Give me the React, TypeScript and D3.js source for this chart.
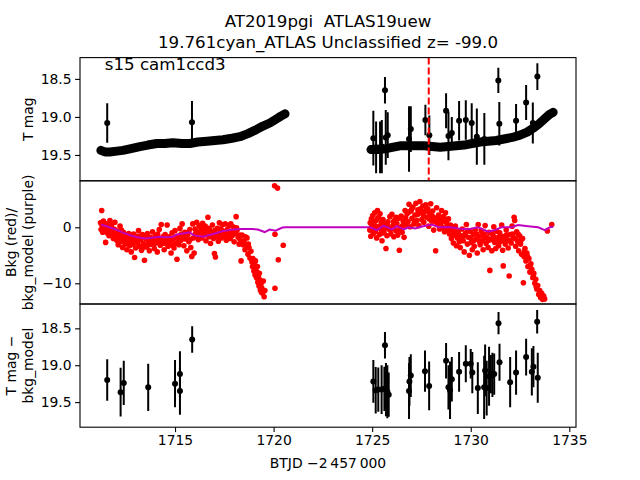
import * as d3 from "d3";
import { useRef, useEffect } from "react";

// dense TESS light curve (BTJD, T mag), two orbits
const bandOrbit1: [number, number][] = [
  [1711.24, 19.44], [1711.44, 19.46], [1711.69, 19.46], [1712.05, 19.45], [1712.35, 19.44],
  [1712.71, 19.42], [1713.22, 19.39], [1713.62, 19.37], [1714.08, 19.35], [1714.48, 19.35],
  [1714.89, 19.34], [1715.35, 19.35], [1715.75, 19.35], [1716.16, 19.33], [1716.62, 19.32],
  [1717.02, 19.31], [1717.43, 19.30], [1717.89, 19.28], [1718.29, 19.26], [1718.70, 19.22],
  [1719.10, 19.17], [1719.46, 19.12], [1719.81, 19.08], [1720.12, 19.03], [1720.37, 18.99],
  [1720.58, 18.96],
];
const bandOrbit2: [number, number][] = [
  [1724.94, 19.43], [1725.30, 19.43], [1725.65, 19.42], [1726.01, 19.40], [1726.41, 19.38],
  [1726.82, 19.38], [1727.23, 19.38], [1727.63, 19.38], [1728.04, 19.39], [1728.45, 19.40],
  [1728.85, 19.39], [1729.26, 19.38], [1729.66, 19.37], [1730.07, 19.35], [1730.48, 19.33],
  [1730.88, 19.32], [1731.29, 19.31], [1731.69, 19.29], [1732.10, 19.27], [1732.50, 19.24],
  [1732.86, 19.20], [1733.16, 19.15], [1733.47, 19.09], [1733.72, 19.03], [1733.98, 18.97],
  [1734.18, 18.94],
];

// sparse points with error bars, top panel (day, mag, err)
const magPoints: [number, number, number][] = [
  [1711.56, 19.08, 0.26], [1715.86, 19.07, 0.28],
  [1725.06, 19.28, 0.36], [1725.20, 19.40, 0.34], [1725.40, 19.40, 0.34], [1725.49, 19.39, 0.35],
  [1725.65, 18.65, 0.175], [1725.69, 19.27, 0.36], [1725.79, 19.24, 0.3], [1726.87, 19.29, 0.43],
  [1726.96, 19.16, 0.3], [1727.70, 19.04, 0.2], [1727.90, 19.24, 0.26], [1728.75, 18.92, 0.23],
  [1728.87, 19.25, 0.32], [1729.04, 19.21, 0.21], [1729.41, 19.05, 0.26], [1729.75, 19.04, 0.26],
  [1730.05, 19.08, 0.26], [1730.31, 19.26, 0.37], [1730.69, 19.29, 0.34], [1731.40, 18.52, 0.165],
  [1731.45, 19.09, 0.285], [1732.30, 19.05, 0.22], [1732.81, 18.81, 0.23], [1733.15, 19.08, 0.27],
  [1733.38, 18.47, 0.175],
];

// background flux (red dots)
const bkgPoints: [number, number][] = [
  [1711.22, 0.8], [1711.25, -0.4], [1711.28, 3.0], [1711.3, 0.3], [1711.33, -0.9], [1711.37, 1.1],
  [1711.4, 0.2], [1711.45, -0.5], [1711.48, -2.7], [1711.52, 0.6], [1711.56, -1.0], [1711.6, -0.2],
  [1711.65, -1.5], [1711.7, 1.2], [1711.74, -0.6], [1711.78, 0.4], [1711.82, -1.2], [1711.87, -2.0],
  [1711.9, -0.3], [1711.95, 0.9], [1712.0, -1.6], [1712.04, -2.3], [1712.08, -0.8], [1712.12, -3.1],
  [1712.17, -1.4], [1712.21, 0.2], [1712.25, -2.6], [1712.3, -1.9], [1712.34, -3.6], [1712.38, -0.9],
  [1712.43, -2.2], [1712.47, -3.0], [1712.52, -1.5], [1712.56, -4.0], [1712.6, -2.7], [1712.65, -1.1],
  [1712.7, -3.3], [1712.74, -2.1], [1712.78, -4.4], [1712.83, -1.7], [1712.87, -3.0], [1712.92, -2.4],
  [1712.95, -5.4], [1713.0, -3.7], [1713.04, -1.6], [1713.1, -2.8], [1713.15, -0.6], [1713.2, -3.4],
  [1713.25, -2.2], [1713.3, -4.1], [1713.35, -1.3], [1713.4, -2.9], [1713.45, -5.9], [1713.5, -2.0],
  [1713.55, -3.5], [1713.6, -1.1], [1713.65, -2.5], [1713.7, -4.2], [1713.75, -1.8], [1713.8, -3.0],
  [1713.86, -0.8], [1713.9, -2.3], [1713.95, -3.8], [1714.0, -1.5], [1714.05, -2.7], [1714.1, -4.4],
  [1714.15, -2.0], [1714.2, -0.4], [1714.25, -3.2], [1714.3, 0.5], [1714.35, -1.9], [1714.4, -2.9],
  [1714.45, -4.0], [1714.5, -1.3], [1714.55, -2.4], [1714.6, 0.4], [1714.65, -3.4], [1714.7, -1.7],
  [1714.75, -2.6], [1714.8, -4.6], [1714.85, -1.0], [1714.9, -2.2], [1714.95, -3.7], [1715.0, -0.6],
  [1715.05, -2.9], [1715.1, -5.7], [1715.15, -1.6], [1715.2, -3.1], [1715.25, -0.2], [1715.3, -2.3],
  [1715.36, 0.6], [1715.4, -1.5], [1715.45, -3.3], [1715.5, -0.9], [1715.55, -2.1], [1715.6, -4.2],
  [1715.65, -1.3], [1715.7, -2.6], [1715.75, -0.4], [1715.8, -3.6], [1715.85, -5.2], [1715.9, 0.6],
  [1715.93, -1.9], [1715.97, -4.6], [1716.02, -0.3], [1716.06, -1.6], [1716.1, 0.9], [1716.14, -0.8],
  [1716.18, -2.2], [1716.22, 0.3], [1716.27, -1.2], [1716.31, -0.1], [1716.35, -1.9], [1716.4, 0.7],
  [1716.44, -0.6], [1716.48, -1.4], [1716.53, 0.2], [1716.57, -2.4], [1716.62, -0.9], [1716.67, 1.8],
  [1716.72, -1.7], [1716.76, -0.4], [1716.8, -2.9], [1716.85, -1.1], [1716.9, 0.4], [1716.95, -2.0],
  [1717.0, -4.7], [1717.05, -5.3], [1717.1, -1.3], [1717.15, -0.2], [1717.2, -2.5], [1717.25, 0.8],
  [1717.3, -1.0], [1717.35, -1.9], [1717.4, 0.5], [1717.45, -0.7], [1717.5, -1.6], [1717.55, 0.6],
  [1717.6, -2.3], [1717.65, -0.4], [1717.7, -1.2], [1717.75, 0.3], [1717.8, -2.0], [1717.85, -0.8],
  [1717.9, -1.5], [1717.95, 0.1], [1718.0, -2.6], [1718.05, -1.0], [1718.1, 1.9], [1718.15, -0.5],
  [1718.2, -1.8], [1718.25, -3.0], [1718.3, -2.2], [1718.35, -6.0], [1718.4, -1.4], [1718.45, -3.1],
  [1718.5, -2.5], [1718.55, -4.0], [1718.6, -3.3], [1718.65, -1.9], [1718.7, -4.8], [1718.75, -3.6],
  [1718.8, -5.5], [1718.85, -4.3], [1718.9, -6.2], [1718.93, -7.0], [1718.96, -5.6], [1719.0, -7.8],
  [1719.03, -6.6], [1719.06, -8.5], [1719.1, -7.3], [1719.13, -9.0], [1719.16, -8.0], [1719.2, -9.8],
  [1719.23, -8.8], [1719.26, -10.5], [1719.3, -9.4], [1719.33, -11.2], [1719.37, -10.0], [1719.4, -10.8],
  [1719.44, -11.8], [1719.48, -9.6], [1719.52, -12.4], [1719.56, -11.3],
  [1720.05, 7.4], [1720.2, 7.0], [1720.07, -1.25], [1720.07, -10.9], [1720.24, -5.8], [1720.49, -3.2],
  [1711.35, -0.1], [1711.42, 0.5], [1711.58, -0.7], [1711.67, 0.0], [1711.85, -0.9], [1711.98, -0.5],
  [1712.14, -1.9], [1712.28, -0.5], [1712.45, -1.3], [1712.62, -2.0], [1712.76, -2.9], [1712.9, -1.2],
  [1713.07, -2.3], [1713.22, -1.6], [1713.37, -3.6], [1713.52, -1.5], [1713.67, -3.1], [1713.83, -2.1],
  [1713.97, -2.9], [1714.12, -1.2], [1714.28, -2.4], [1714.42, -1.6], [1714.58, -3.0], [1714.72, -2.2],
  [1714.87, -3.2], [1715.02, -1.8], [1715.17, -2.5], [1715.32, -1.2], [1715.47, -2.0], [1715.62, -1.0],
  [1715.77, -2.2], [1716.04, -1.1], [1716.2, -1.4], [1716.37, -0.5], [1716.55, -1.1], [1716.7, -0.2],
  [1716.87, -1.6], [1717.02, -0.6], [1717.18, -1.7], [1717.33, -0.3], [1717.52, -0.9], [1717.68, -1.8],
  [1717.83, 0.6], [1717.98, -1.1], [1718.12, -0.1], [1718.27, -1.4], [1718.42, -2.6], [1718.57, -1.7],
  [1718.72, -3.0], [1719.08, -6.0], [1719.18, -7.0], [1719.28, -8.2], [1719.38, -11.6],
  [1724.88, -0.5], [1724.9, 0.8], [1724.93, -1.6], [1724.96, 1.5], [1725.0, -0.2], [1725.03, 2.1],
  [1725.06, -1.1], [1725.1, 0.5], [1725.13, 2.6], [1725.16, -0.7], [1725.2, 1.2], [1725.23, -1.9],
  [1725.27, 3.0], [1725.3, 0.1], [1725.33, 1.8], [1725.37, -1.3], [1725.4, 2.4], [1725.44, -0.4],
  [1725.47, 0.9], [1725.5, -2.4], [1725.55, 1.4], [1725.6, -0.9], [1725.65, 0.6], [1725.7, -3.8],
  [1725.75, -1.5], [1725.8, 1.0], [1725.85, -0.3], [1725.9, 1.9], [1725.95, -1.2], [1726.0, 2.3],
  [1726.05, 0.2], [1726.1, -1.7], [1726.15, 1.3], [1726.2, -0.6], [1726.25, 0.7], [1726.3, -1.4],
  [1726.35, 1.6], [1726.38, -4.1], [1726.42, 0.0], [1726.47, 2.0], [1726.52, -0.9], [1726.57, 1.1],
  [1726.62, -1.8], [1726.67, 3.0], [1726.72, 0.4], [1726.77, 2.4], [1726.82, 1.0], [1726.87, 4.1],
  [1726.92, 0.1], [1726.97, 2.9], [1727.02, 1.6], [1727.07, 3.6], [1727.12, 0.6], [1727.17, 2.2],
  [1727.22, 4.3], [1727.27, 1.2], [1727.32, 3.1], [1727.37, 0.3], [1727.42, 4.6], [1727.47, 2.6],
  [1727.52, 1.4], [1727.57, 3.8], [1727.62, 0.9], [1727.67, 2.8], [1727.72, 4.0], [1727.77, 1.8],
  [1727.82, 3.3], [1727.87, 0.2], [1727.92, 2.5], [1727.97, 4.2], [1728.02, 1.1], [1728.07, 2.9],
  [1728.12, -0.5], [1728.17, 1.7], [1728.22, -4.2], [1728.27, 3.5], [1728.32, 0.6], [1728.37, 2.2],
  [1728.42, -0.3], [1728.47, 1.3], [1728.52, 3.0], [1728.57, 0.0], [1728.62, 1.9], [1728.67, -0.8],
  [1728.72, 2.6], [1728.77, 0.8], [1728.82, -0.5], [1728.87, 1.5], [1728.92, -1.2], [1728.97, 0.4],
  [1729.02, -2.0], [1729.07, -0.6], [1729.12, -2.8], [1729.17, -1.4], [1729.22, 0.2], [1729.27, -3.3],
  [1729.32, -1.9], [1729.37, -0.8], [1729.42, -2.6], [1729.47, -3.6], [1729.52, -1.5], [1729.57, -0.3],
  [1729.62, -2.4], [1729.67, -4.4], [1729.72, -1.1], [1729.78, 0.5], [1729.83, -3.0], [1729.88, -1.8],
  [1729.93, -5.0], [1729.98, -0.7], [1730.03, -2.7], [1730.08, -4.0], [1730.13, -1.3], [1730.18, -3.4],
  [1730.23, -0.4], [1730.28, -2.1], [1730.33, -4.6], [1730.38, 0.5], [1730.43, -1.6], [1730.48, -3.1],
  [1730.53, -0.6], [1730.58, -2.4], [1730.63, -4.0], [1730.68, -1.2], [1730.73, 0.3], [1730.78, -2.9],
  [1730.83, -1.8], [1730.88, -3.6], [1730.93, -0.9], [1730.97, -7.7], [1731.02, -2.2], [1731.07, -4.2],
  [1731.12, -1.4], [1731.17, 0.1], [1731.22, -2.7], [1731.27, -3.8], [1731.32, -0.7], [1731.37, -1.9],
  [1731.42, -3.3], [1731.47, -1.0], [1731.52, -2.5], [1731.57, 0.4], [1731.62, -4.1], [1731.65, -6.9],
  [1731.7, -1.6], [1731.75, -3.0], [1731.8, -0.5], [1731.85, -2.2], [1731.9, -3.7], [1731.95, -8.7],
  [1732.0, -1.3], [1732.05, -2.8], [1732.1, 0.2], [1732.15, -1.9], [1732.2, 1.8], [1732.23, 1.2],
  [1732.28, -3.4], [1732.33, -0.8], [1732.38, -2.5], [1732.43, -4.2], [1732.48, -1.5], [1732.53, -3.0],
  [1732.58, -4.8], [1732.63, -2.0], [1732.67, -9.9], [1732.7, -5.2], [1732.75, -3.8], [1732.8, -6.0],
  [1732.85, -4.6], [1732.9, -7.0], [1732.95, -5.6], [1733.0, -8.0], [1733.05, -6.5], [1733.1, -7.5],
  [1733.15, -9.0], [1733.2, -8.2], [1733.25, -10.0], [1733.3, -9.3], [1733.35, -11.0], [1733.4, -10.4],
  [1733.45, -12.0], [1733.5, -11.3], [1733.55, -12.6], [1733.6, -11.8], [1733.65, -12.9], [1733.7, -12.3],
  [1733.75, -12.8], [1733.89, -0.66], [1734.11, 0.5],
  [1724.98, 0.4], [1725.08, 1.0], [1725.18, -0.2], [1725.28, 1.6], [1725.42, 0.3], [1725.52, -1.0],
  [1725.62, -0.2], [1725.78, 0.4], [1725.92, -0.5], [1726.08, 1.0], [1726.22, 1.8], [1726.4, -0.7],
  [1726.55, 0.3], [1726.7, 1.7], [1726.85, 2.7], [1727.0, 3.2], [1727.15, 1.0], [1727.3, 2.3],
  [1727.45, 3.3], [1727.6, 2.0], [1727.75, 3.1], [1727.9, 1.5], [1728.05, 2.0], [1728.2, 1.0],
  [1728.35, 1.5], [1728.5, 0.8], [1728.65, 1.2], [1728.8, 0.1], [1728.95, -0.5], [1729.1, -1.2],
  [1729.25, -0.8], [1729.4, -1.6], [1729.55, -2.2], [1729.7, -1.5], [1729.85, -0.6], [1730.0, -1.9],
  [1730.15, -2.4], [1730.3, -1.2], [1730.45, -2.6], [1730.6, -1.4], [1730.75, -1.9], [1730.9, -2.3],
  [1731.05, -1.0], [1731.2, -1.8], [1731.35, -2.6], [1731.5, -1.6], [1731.65, -2.3], [1731.82, -1.4],
  [1731.98, -2.4], [1732.12, -1.2], [1732.26, -2.0], [1732.4, -1.2], [1732.55, -2.3], [1732.72, -4.4],
  [1732.88, -5.2], [1733.02, -6.8], [1733.18, -8.6], [1733.32, -10.6], [1733.48, -11.8], [1733.62, -12.5],
];

// background model (purple line)
const modelPoints: [number, number][] = [
  [1711.25, 0.5], [1711.6, 0.1], [1712.0, -0.4], [1712.4, -1.0], [1712.8, -1.5], [1713.1, -1.8],
  [1713.45, -2.0], [1713.8, -1.85], [1714.2, -1.7], [1714.5, -1.8], [1714.85, -1.75], [1715.1, -1.3],
  [1715.4, -1.1], [1715.75, -0.9], [1715.95, -1.45], [1716.4, -1.7], [1716.9, -1.25], [1717.4, -0.7],
  [1717.9, -0.4], [1718.4, -0.3], [1718.9, -0.3], [1719.2, -0.4], [1719.55, -0.85], [1719.8, -0.4],
  [1720.1, -0.6], [1720.45, -0.05], [1720.6, 0.0], [1724.9, 0.0], [1725.24, -0.5], [1725.58, 0.3],
  [1726.0, -0.36], [1726.26, 0.2], [1726.6, -0.36], [1726.85, 0.0], [1727.19, -0.2], [1727.53, 0.13],
  [1728.03, 0.5], [1728.37, 0.0], [1728.88, 0.05], [1729.39, -0.2], [1729.87, -0.36], [1730.38, 0.0],
  [1730.88, -0.8], [1731.22, -0.5], [1731.56, 0.0], [1732.07, 0.0], [1732.4, 0.4], [1732.91, 0.2],
  [1733.42, 0.0], [1733.76, -0.5], [1734.01, 0.0], [1734.18, 0.1],
];

// T mag - bkg_model (day, mag, err)
const diffPoints: [number, number, number][] = [
  [1711.56, 19.20, 0.28], [1712.24, 19.365, 0.33], [1712.40, 19.24, 0.3], [1713.64, 19.30, 0.32],
  [1715.00, 19.25, 0.32], [1715.25, 19.12, 0.31], [1715.25, 19.35, 0.32], [1715.87, 18.65, 0.18],
  [1725.06, 19.22, 0.29], [1725.18, 19.34, 0.315], [1725.31, 19.33, 0.3], [1725.48, 19.33, 0.33],
  [1725.62, 19.32, 0.3], [1725.65, 18.73, 0.18], [1725.70, 19.33, 0.36], [1725.77, 19.36, 0.36],
  [1725.84, 19.40, 0.3], [1726.87, 19.35, 0.38], [1726.89, 19.22, 0.33], [1726.96, 19.14, 0.29],
  [1727.68, 19.08, 0.28], [1727.89, 19.28, 0.33], [1728.75, 18.94, 0.24], [1728.87, 19.30, 0.3],
  [1728.95, 19.34, 0.39], [1729.04, 19.19, 0.3], [1729.41, 19.09, 0.27], [1729.75, 18.98, 0.25],
  [1730.00, 18.98, 0.2], [1730.08, 19.10, 0.28], [1730.36, 19.31, 0.35], [1730.68, 19.30, 0.43],
  [1730.73, 19.07, 0.35], [1730.81, 19.31, 0.37], [1730.93, 19.15, 0.4], [1731.02, 19.12, 0.26],
  [1731.10, 19.13, 0.3], [1731.19, 19.12, 0.28], [1731.41, 18.43, 0.15], [1731.46, 18.96, 0.25],
  [1732.00, 19.23, 0.34], [1732.30, 19.10, 0.3], [1732.81, 18.89, 0.25], [1733.10, 19.09, 0.32],
  [1733.18, 19.02, 0.28], [1733.37, 18.41, 0.16], [1733.40, 19.17, 0.34],
];

const xTicks = [1715, 1720, 1725, 1730, 1735];
const magTicks = [18.5, 19.0, 19.5];
const bkgTicks = [0, -10];
const eventDay = 1727.87;

const font = "DejaVu Sans";

export default function App({
  width = 640,
  height = 480,
  marginLeft = 80,
  marginRight = 64,
  marginTop = 57.6,
  marginBottom = 52.8,
}: {
  width?: number
  height?: number
  marginLeft?: number
  marginRight?: number
  marginTop?: number
  marginBottom?: number
}) {
  const gx = useRef<SVGGElement | null>(null);
  const gy1 = useRef<SVGGElement | null>(null);
  const gy2 = useRef<SVGGElement | null>(null);
  const gy3 = useRef<SVGGElement | null>(null);

  const innerW = width - marginLeft - marginRight;
  const panelH = (height - marginTop - marginBottom) / 3;
  const top1 = marginTop, top2 = marginTop + panelH, top3 = marginTop + 2 * panelH;

  const x = d3.scaleLinear([1710.18, 1735.34], [marginLeft, width - marginRight]);
  const y1 = d3.scaleLinear([18.22, 19.84], [top1, top2]);
  const y2 = d3.scaleLinear([8.3, -13.7], [top2, top3]);
  const y3 = d3.scaleLinear([18.17, 19.84], [top3, top3 + panelH]);

  const bandLine = d3.line<[number, number]>((d) => x(d[0]), (d) => y1(d[1]));
  const modelLine = d3.line<[number, number]>((d) => x(d[0]), (d) => y2(d[1]));

  useEffect(() => {
    const styleAxis = (g: any) => {
      g.attr("font-family", font).attr("font-size", 13.9);
      g.select(".domain").remove();
      g.selectAll(".tick line").attr("stroke", "black").attr("stroke-width", 1.1);
      g.selectAll(".tick text").attr("fill", "black");
    };
    if (gx.current) {
      d3.select(gx.current)
        .call(d3.axisBottom(x).tickValues(xTicks).tickFormat(d3.format("d")).tickSize(4.9).tickPadding(3.5))
        .call(styleAxis);
    }
    if (gy1.current) {
      d3.select(gy1.current)
        .call(d3.axisLeft(y1).tickValues(magTicks).tickFormat(d3.format(".1f")).tickSize(4.9).tickPadding(3.5))
        .call(styleAxis);
    }
    if (gy2.current) {
      d3.select(gy2.current)
        .call(d3.axisLeft(y2).tickValues(bkgTicks).tickFormat((d) => (d < 0 ? "\u2212" + Math.abs(+d) : String(d))).tickSize(4.9).tickPadding(3.5))
        .call(styleAxis);
    }
    if (gy3.current) {
      d3.select(gy3.current)
        .call(d3.axisLeft(y3).tickValues(magTicks).tickFormat(d3.format(".1f")).tickSize(4.9).tickPadding(3.5))
        .call(styleAxis);
    }
  }, [gx, gy1, gy2, gy3, x, y1, y2, y3]);

  const errorbars = (pts: [number, number, number][], y: d3.ScaleLinear<number, number>) =>
    pts.map(([d, m, e], i) => (
      <g key={i}>
        <line x1={x(d)} x2={x(d)} y1={y(m - e)} y2={y(m + e)} stroke="black" strokeWidth={2} />
        <circle cx={x(d)} cy={y(m)} r={3} fill="black" />
      </g>
    ));

  const midX = marginLeft + innerW / 2;

  return (
    <svg width={width} height={height} style={{ position: "absolute", left: 0, top: 0, background: "white" }} fontFamily={font}>
      <defs>
        <clipPath id="c1"><rect x={marginLeft} y={top1} width={innerW} height={panelH} /></clipPath>
        <clipPath id="c2"><rect x={marginLeft} y={top2} width={innerW} height={panelH} /></clipPath>
        <clipPath id="c3"><rect x={marginLeft} y={top3} width={innerW} height={panelH} /></clipPath>
      </defs>

      <text x={midX} y={27.3} textAnchor="middle" fontSize={16.67} style={{ whiteSpace: "pre" }}>AT2019pgi  ATLAS19uew</text>
      <text x={midX} y={48.3} textAnchor="middle" fontSize={16.67}>19.761cyan_ATLAS Unclassified z= -99.0</text>

      {/* panel 1: T mag */}
      <g clipPath="url(#c1)">
        {[bandOrbit1, bandOrbit2].map((seg, i) => (
          <path key={i} d={bandLine(seg) ?? ""} fill="none" stroke="black" strokeWidth={9}
            strokeLinecap="round" strokeLinejoin="round" />
        ))}
        {errorbars(magPoints, y1)}
        <line x1={x(eventDay)} x2={x(eventDay)} y1={top1} y2={top2} stroke="red" strokeWidth={2} strokeDasharray="7,3" />
      </g>
      <text x={104.8} y={69.9} fontSize={16.67}>s15 cam1ccd3</text>

      {/* panel 2: background */}
      <g clipPath="url(#c2)">
        {bkgPoints.map(([d, v], i) => (
          <circle key={i} cx={x(d)} cy={y2(v)} r={2.8} fill="red" />
        ))}
        <path d={modelLine(modelPoints) ?? ""} fill="none" stroke="#bf00bf" strokeWidth={2} />
      </g>

      {/* panel 3: T mag - bkg_model */}
      <g clipPath="url(#c3)">{errorbars(diffPoints, y3)}</g>

      {[top1, top2, top3].map((t, i) => (
        <rect key={i} x={marginLeft} y={t} width={innerW} height={panelH} fill="none" stroke="black" strokeWidth={1.1} />
      ))}

      <g ref={gx} transform={`translate(0,${top3 + panelH})`} />
      <g ref={gy1} transform={`translate(${marginLeft},0)`} />
      <g ref={gy2} transform={`translate(${marginLeft},0)`} />
      <g ref={gy3} transform={`translate(${marginLeft},0)`} />

      <g fontSize={13.9} textAnchor="middle" dominantBaseline="central">
        <text transform={`translate(28,${top1 + panelH / 2}) rotate(-90)`}>T mag</text>
        <text transform={`translate(11.3,${top2 + panelH / 2}) rotate(-90)`}>Bkg (red)/</text>
        <text transform={`translate(28,${top2 + panelH / 2}) rotate(-90)`}>bkg_model (purple)</text>
        <text transform={`translate(11.3,${top3 + panelH / 2}) rotate(-90)`}>T mag −</text>
        <text transform={`translate(28,${top3 + panelH / 2}) rotate(-90)`}>bkg_model</text>
        <text x={midX} y={463}>BTJD −2{"\u2009"}457{"\u2009"}000</text>
      </g>
    </svg>
  );
}
